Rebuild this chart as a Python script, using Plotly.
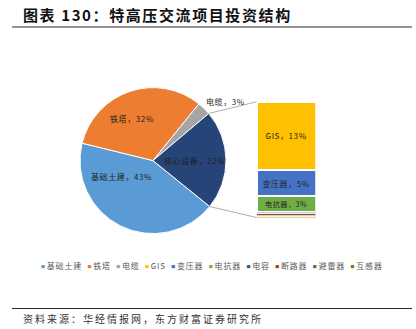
import math
import plotly.graph_objects as go

# Overall investment structure of a UHV AC project (%)
pie_labels = ["基础土建", "铁塔", "电缆", "核心设备"]
pie_values = [43, 32, 3, 22]
pie_colors = ["#5B9BD5", "#ED7D31", "#A5A5A5", "#264478"]

# Breakdown of 核心设备 (%)
core_labels = ["GIS", "变压器", "电抗器", "电容", "断路器", "避雷器", "互感器"]
core_values = [13, 5, 3, 0.3, 0.3, 0.25, 0.15]
core_colors = ["#FFC000", "#4472C4", "#70AD47", "#255E91", "#9E480E", "#636363", "#997300"]

title_text = "图表 130：特高压交流项目投资结构"
source_text = "资料来源：华经情报网，东方财富证券研究所"

W, H = 416, 329
FONT = "Noto Sans CJK SC"

# pie geometry (pixels)
pie_cx, pie_cy, pie_r = 153, 160.6, 73
rotation = 129
pie_dom_x = [(pie_cx - pie_r) / W, (pie_cx + pie_r) / W]
pie_dom_y = [(H - pie_cy - pie_r) / H, (H - pie_cy + pie_r) / H]

# stacked bar geometry (pixels)
bar_left, bar_right, bar_top, bar_bottom = 256.6, 315.6, 101.8, 217.5
bar_dom_x = [bar_left / W, bar_right / W]
bar_dom_y = [(H - bar_bottom) / H, (H - bar_top) / H]


def spaced(text, ls):
    return f"<span style='letter-spacing:{ls}px'>{text}</span>"


fig = go.Figure()

fig.add_trace(go.Pie(
    labels=pie_labels, values=pie_values, sort=False,
    direction="clockwise", rotation=rotation,
    marker=dict(colors=pie_colors, line=dict(color="white", width=1)),
    textinfo="none", showlegend=False, hoverinfo="label+percent",
    domain=dict(x=pie_dom_x, y=pie_dom_y),
))

core_total = sum(core_values)
for lab, val, col in zip(core_labels, core_values, core_colors):
    big = val >= 1
    fig.add_trace(go.Bar(
        x=[0], y=[val], width=1, name=lab,
        marker=dict(color=col, line=dict(color="white", width=2 if big else 0.7)),
        text=[spaced(f"{lab}，{val:g}%", 0.6)] if big else None,
        textposition="inside" if big else "none",
        insidetextanchor="middle", textangle=0,
        textfont=dict(family=FONT, size=8, color="#262626"),
        showlegend=False,
    ))

# labels on the pie slices
label_pos = {
    "基础土建": (121, 176),
    "铁塔": (132, 118),
    "核心设备": (194, 161),
    "电缆": (226, 101),
}
annotations = []
for lab, val in zip(pie_labels, pie_values):
    px, py = label_pos[lab]
    annotations.append(dict(
        x=px / W, y=1 - py / H, xref="paper", yref="paper",
        text=spaced(f"{lab}，{val}%", 0.6), showarrow=False,
        font=dict(family=FONT, size=8, color="#1f1f1f"),
        xanchor="center", yanchor="middle",
    ))

# legend row built from the series names and colours
legend_names = pie_labels[:3] + core_labels
legend_cols = pie_colors[:3] + core_colors
legend_html = "   ".join(
    f"<span style='color:{c};font-size:4px'>■</span> {spaced(n, 0.8)}"
    for n, c in zip(legend_names, legend_cols)
)
annotations.append(dict(
    x=212 / W, y=1 - 265.5 / H, xref="paper", yref="paper",
    text=legend_html, showarrow=False,
    font=dict(family=FONT, size=8, color="#595959"),
    xanchor="center", yanchor="middle",
))

annotations.append(dict(
    x=21 / W, y=1 - 14.5 / H, xref="paper", yref="paper",
    text="<b>" + spaced(title_text, 1.6) + "</b>", showarrow=False,
    font=dict(family=FONT, size=15, color="#111111"),
    xanchor="left", yanchor="middle",
))
annotations.append(dict(
    x=21 / W, y=1 - 318.5 / H, xref="paper", yref="paper",
    text=spaced(source_text, 2), showarrow=False,
    font=dict(family=FONT, size=10, color="#333333"),
    xanchor="left", yanchor="middle",
))


# connector lines from the 核心设备 slice edges to the bar corners
def pie_point(frac):
    ang = math.radians(rotation + 360 * frac)
    x = pie_cx + pie_r * math.sin(ang)
    y = pie_cy - pie_r * math.cos(ang)
    return x / W, 1 - y / H


core_start = sum(pie_values[:3]) / sum(pie_values)
p_top = pie_point(core_start)
p_bot = pie_point(1.0)
shapes = [
    dict(type="line", xref="paper", yref="paper",
         x0=p_top[0], y0=p_top[1], x1=bar_dom_x[0], y1=bar_dom_y[1],
         line=dict(color="#A6A6A6", width=0.9)),
    dict(type="line", xref="paper", yref="paper",
         x0=p_bot[0], y0=p_bot[1], x1=bar_dom_x[0], y1=bar_dom_y[0],
         line=dict(color="#A6A6A6", width=0.9)),
    dict(type="line", xref="paper", yref="paper",
         x0=12 / W, x1=412 / W, y0=1 - 27 / H, y1=1 - 27 / H,
         line=dict(color="#262626", width=1)),
    dict(type="line", xref="paper", yref="paper",
         x0=12 / W, x1=412 / W, y0=1 - 308.5 / H, y1=1 - 308.5 / H,
         line=dict(color="#262626", width=1)),
]

fig.update_layout(
    width=W, height=H,
    margin=dict(l=0, r=0, t=0, b=0),
    paper_bgcolor="white", plot_bgcolor="white",
    barmode="stack",
    xaxis=dict(domain=bar_dom_x, range=[-0.5, 0.5], visible=False, fixedrange=True),
    yaxis=dict(domain=bar_dom_y, range=[core_total, 0], visible=False, fixedrange=True),
    annotations=annotations,
    shapes=shapes,
    showlegend=False,
    font=dict(family=FONT),
)

fig.write_html("out.html")
